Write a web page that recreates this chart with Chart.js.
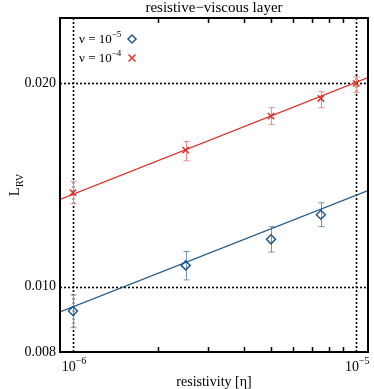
<!DOCTYPE html>
<html>
<head>
<meta charset="utf-8">
<script src="https://cdn.jsdelivr.net/npm/chart.js@4.4.1/dist/chart.umd.min.js"></script>
<style>
  html, body { margin: 0; padding: 0; background: #fff; }
  #wrap { width: 374px; height: 389px; }
</style>
</head>
<body>
<div id="wrap"><canvas id="canvas" width="374" height="389"></canvas></div>
<script>
// resistivity values
var eta = [1e-6, 2.5e-6, 5e-6, 7.5e-6, 1e-5];

// nu = 1e-5 (blue diamonds)
var lowNu = [0.00920, 0.01075, 0.01175, 0.01278];
var lowNuErrLo = [0.00869, 0.01023, 0.01125, 0.01227];
var lowNuErrHi = [0.00972, 0.01127, 0.01227, 0.01331];

// nu = 1e-4 (red crosses)
var highNu = [0.01378, 0.01593, 0.01789, 0.01900, 0.02000];
var highNuErrLo = [0.01327, 0.01536, 0.01739, 0.01841, 0.01938];
var highNuErrHi = [0.01432, 0.01640, 0.01841, 0.01944, 0.02046];

// power law fits, sampled at the axis ends
var fitEta = [9e-7, 1.1e-5];
var fitLow = [0.00917, 0.01388];
var fitHigh = [0.01346, 0.02040];

var yTicks = [0.008, 0.010, 0.020];
var xMinor = [2e-6, 3e-6, 4e-6, 5e-6, 6e-6, 7e-6, 8e-6, 9e-6];
var xMajor = [1e-6, 1e-5];
var xMajorExp = ['\u22126', '\u22125'];
var gridX = [1e-6, 1e-5];
var gridY = [0.010, 0.020];

var RED = '#e0302a';
var BLUE = '#23598a';
var FONT = '"Liberation Serif", "Times New Roman", serif';

function pts(xs, ys) {
  var out = [];
  for (let i = 0; i < ys.length; i++) {
    out.push({x: xs[i], y: ys[i]});
  }
  return out;
}

// dotted grid + error bars, under the markers
const under = {
  id: 'under',
  beforeDatasetsDraw(chart) {
    const c = chart.ctx, a = chart.chartArea;
    const xs = chart.scales.x, ys = chart.scales.y;
    c.save();
    c.strokeStyle = '#000';
    c.lineWidth = 1.6;
    c.setLineDash([2, 2]);
    gridX.forEach(v => {
      const px = Math.round(xs.getPixelForValue(v)) + 0.5;
      c.beginPath(); c.moveTo(px, a.top); c.lineTo(px, a.bottom); c.stroke();
    });
    gridY.forEach(v => {
      const py = Math.round(ys.getPixelForValue(v)) + 0.5;
      c.beginPath(); c.moveTo(a.left, py); c.lineTo(a.right, py); c.stroke();
    });
    c.setLineDash([]);

    chart.data.datasets.forEach(ds => {
      if (!ds.errLo) return;
      c.strokeStyle = ds.errColor;
      c.lineWidth = 1;
      ds.data.forEach((p, i) => {
        const px = Math.round(xs.getPixelForValue(p.x)) + 0.5;
        const y1 = ys.getPixelForValue(ds.errLo[i]);
        const y2 = ys.getPixelForValue(ds.errHi[i]);
        c.beginPath();
        c.moveTo(px, y1); c.lineTo(px, y2);
        c.moveTo(px - 3, y1); c.lineTo(px + 3, y1);
        c.moveTo(px - 3, y2); c.lineTo(px + 3, y2);
        c.stroke();
      });
    });
    c.restore();
  }
};

// frame, inner ticks, labels, legend
const deco = {
  id: 'deco',
  afterDraw(chart) {
    const c = chart.ctx, a = chart.chartArea;
    const xs = chart.scales.x;
    c.save();
    c.strokeStyle = '#000';
    c.lineWidth = 2;
    c.strokeRect(a.left, a.top, a.right - a.left, a.bottom - a.top);

    c.lineWidth = 1.5;
    xMinor.forEach(v => {
      const px = Math.round(xs.getPixelForValue(v)) + 0.5;
      c.beginPath();
      c.moveTo(px, a.bottom); c.lineTo(px, a.bottom - 5);
      c.moveTo(px, a.top); c.lineTo(px, a.top + 5);
      c.stroke();
    });

    c.fillStyle = '#000';
    c.textBaseline = 'alphabetic';
    // x tick labels with superscript exponent
    xMajor.forEach((v, i) => {
      const px = xs.getPixelForValue(v);
      c.font = '14px ' + FONT;
      const w1 = c.measureText('10').width;
      c.font = '10px ' + FONT;
      const w2 = c.measureText(xMajorExp[i]).width;
      const x0 = px - (w1 + w2) / 2 + 1;
      c.font = '14px ' + FONT;
      c.textAlign = 'left';
      c.fillText('10', x0, 371);
      c.font = '10px ' + FONT;
      c.fillText(xMajorExp[i], x0 + w1, 364);
    });

    // title
    c.textAlign = 'center';
    c.font = '15px ' + FONT;
    c.fillText('resistive\u2212viscous layer', (a.left + a.right) / 2, 12);

    // x axis title
    c.font = '14px ' + FONT;
    c.fillText('resistivity [\u03b7]', (a.left + a.right) / 2, 386);

    // y axis title L_RV
    c.save();
    c.translate(19, (a.top + a.bottom) / 2);
    c.rotate(-Math.PI / 2);
    c.font = '15px ' + FONT;
    const wl = c.measureText('L').width;
    c.font = '10px ' + FONT;
    const ws = c.measureText('RV').width;
    const lx = -(wl + ws) / 2;
    c.textAlign = 'left';
    c.font = '15px ' + FONT;
    c.fillText('L', lx, 0);
    c.font = '10px ' + FONT;
    c.fillText('RV', lx + wl, 4);
    c.restore();

    // legend
    const rows = [['\u22125', 39], ['\u22124', 58]];
    rows.forEach((r, i) => {
      c.fillStyle = '#000';
      c.textAlign = 'left';
      c.font = '13px ' + FONT;
      const base = '\u03bd = 10';
      c.fillText(base, 79, r[1] + 4);
      const wb = c.measureText(base).width;
      c.font = '9px ' + FONT;
      c.fillText(r[0], 79 + wb, r[1] - 2);
      const mx = 132, my = r[1];
      c.lineWidth = 1.5;
      if (i === 0) {
        c.strokeStyle = BLUE;
        c.beginPath();
        c.moveTo(mx, my - 4); c.lineTo(mx + 4, my); c.lineTo(mx, my + 4); c.lineTo(mx - 4, my); c.closePath();
        c.stroke();
      } else {
        c.strokeStyle = RED;
        c.beginPath();
        c.moveTo(mx - 3.5, my - 3.5); c.lineTo(mx + 3.5, my + 3.5);
        c.moveTo(mx + 3.5, my - 3.5); c.lineTo(mx - 3.5, my + 3.5);
        c.stroke();
      }
    });
    c.restore();
  }
};

const ctx = document.getElementById('canvas');

new Chart(ctx, {
  type: 'scatter',
  data: {
    datasets: [
      {
        label: 'fit nu=1e-5',
        data: pts(fitEta, fitLow),
        showLine: true,
        borderColor: BLUE,
        borderWidth: 1.3,
        pointRadius: 0
      },
      {
        label: 'fit nu=1e-4',
        data: pts(fitEta, fitHigh),
        showLine: true,
        borderColor: RED,
        borderWidth: 1.3,
        pointRadius: 0
      },
      {
        label: 'nu = 1e-5',
        data: pts(eta, lowNu),
        errLo: lowNuErrLo,
        errHi: lowNuErrHi,
        errColor: '#7394b3',
        pointStyle: 'rectRot',
        pointRadius: 4.5,
        borderColor: BLUE,
        backgroundColor: 'rgba(255,255,255,0)',
        borderWidth: 1.5
      },
      {
        label: 'nu = 1e-4',
        data: pts(eta, highNu),
        errLo: highNuErrLo,
        errHi: highNuErrHi,
        errColor: '#ef8a85',
        pointStyle: 'crossRot',
        pointRadius: 4.5,
        borderColor: RED,
        borderWidth: 1.5
      }
    ]
  },
  options: {
    animation: false,
    responsive: false,
    events: [],
    layout: { padding: { top: 18, right: 2, left: 0, bottom: 0 } },
    plugins: {
      legend: { display: false },
      tooltip: { enabled: false }
    },
    scales: {
      x: {
        type: 'logarithmic',
        min: 9e-7,
        max: 1.1e-5,
        grid: { display: false },
        border: { display: false },
        ticks: { display: false },
        afterFit(scale) { scale.height = 37; }
      },
      y: {
        type: 'logarithmic',
        min: 0.008,
        max: 0.025,
        grid: { display: false, tickLength: 0 },
        border: { display: false },
        afterBuildTicks(scale) {
          scale.ticks = yTicks.map(v => ({ value: v }));
        },
        ticks: {
          color: '#000',
          padding: 4,
          font: { family: FONT, size: 14 },
          callback: v => v.toFixed(3)
        },
        afterFit(scale) { scale.width = 60; }
      }
    }
  },
  plugins: [under, deco]
});
</script>
</body>
</html>
